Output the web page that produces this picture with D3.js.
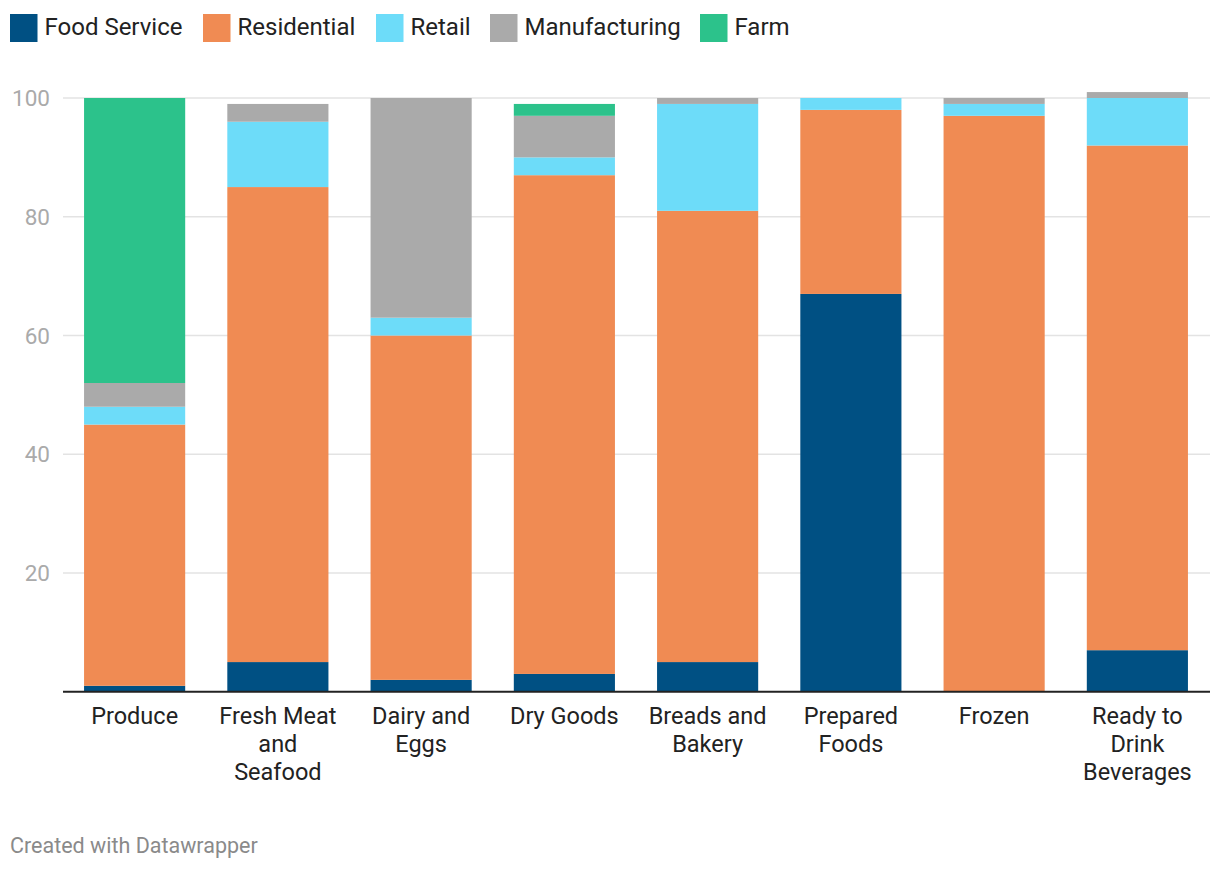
<!DOCTYPE html>
<html><head><meta charset="utf-8">
<script src="https://cdn.jsdelivr.net/npm/d3@7/dist/d3.min.js"></script>
<style>body{margin:0;background:#fff;} text{font-family:Roboto,"Noto Sans",sans-serif;}</style>
</head><body>
<svg id="chart" width="1220" height="870"></svg>
<script>
const categories = ["Produce", "Fresh Meat and Seafood", "Dairy and Eggs", "Dry Goods", "Breads and Bakery", "Prepared Foods", "Frozen", "Ready to Drink Beverages"];
const categoryLines = [["Produce"], ["Fresh Meat", "and", "Seafood"], ["Dairy and", "Eggs"], ["Dry Goods"], ["Breads and", "Bakery"], ["Prepared", "Foods"], ["Frozen"], ["Ready to", "Drink", "Beverages"]];
const seriesNames = ["Food Service", "Residential", "Retail", "Manufacturing", "Farm"];
const foodService   = [1, 5, 2, 3, 5, 67, 0, 7];
const residential   = [44, 80, 58, 84, 76, 31, 97, 85];
const retail        = [3, 11, 3, 3, 18, 2, 2, 8];
const manufacturing = [4, 3, 37, 7, 1, 0, 1, 1];
const farm          = [48, 0, 0, 2, 0, 0, 0, 0];
const yTicks = [20, 40, 60, 80, 100];
const colors = ["#005083", "#f08b53", "#6ddcf9", "#aaaaaa", "#2cc28b"];

const seriesValues = [foodService, residential, retail, manufacturing, farm];
const rows = categories.map((c, i) => {
  const r = {cat: c};
  seriesNames.forEach((s, j) => r[s] = seriesValues[j][i]);
  return r;
});

const svg = d3.select("#chart");
const x = d3.scaleBand().domain(categories).range([63, 1209]).paddingInner(0.294).paddingOuter(0.147);
const y = d3.scaleLinear().domain([0, 100]).range([691.75, 98]);

// gridlines
svg.append("g").selectAll("line").data(yTicks).join("line")
  .attr("x1", 63).attr("x2", 1210)
  .attr("y1", d => y(d)).attr("y2", d => y(d))
  .attr("stroke", "#e3e3e3").attr("stroke-width", 1.5);

// y tick labels
svg.append("g").selectAll("text").data(yTicks).join("text")
  .attr("x", 50).attr("y", d => y(d)).attr("dy", "0.36em")
  .attr("text-anchor", "end").attr("fill", "#aaaaaa").attr("font-size", 22.5)
  .text(d => d);

// stacked bars
const stack = d3.stack().keys(seriesNames)(rows);
svg.append("g").selectAll("g").data(stack).join("g")
  .attr("fill", (d, i) => colors[i])
  .selectAll("rect").data(d => d).join("rect")
  .attr("x", d => x(d.data.cat))
  .attr("width", x.bandwidth())
  .attr("y", d => y(d[1]))
  .attr("height", d => Math.max(0, y(d[0]) - y(d[1])));

// baseline
svg.append("line").attr("x1", 63).attr("x2", 1210)
  .attr("y1", y(0)).attr("y2", y(0)).attr("stroke", "#222").attr("stroke-width", 2);

// x labels
const xl = svg.append("g").selectAll("text").data(categories).join("text")
  .attr("x", d => x(d) + x.bandwidth() / 2)
  .attr("y", 724).attr("text-anchor", "middle")
  .attr("fill", "#222").attr("font-size", 23.5);
xl.each(function(d, i) {
  const t = d3.select(this);
  categoryLines[i].forEach((ln, k) => {
    t.append("tspan").attr("x", x(d) + x.bandwidth() / 2).attr("dy", k === 0 ? 0 : 28).text(ln);
  });
});

// legend
const legendX = [10, 203, 376, 490, 700];
const lg = svg.append("g").selectAll("g").data(seriesNames).join("g")
  .attr("transform", (d, i) => `translate(${legendX[i]},0)`);
lg.append("rect").attr("x", 0).attr("y", 14).attr("width", 27.5).attr("height", 28)
  .attr("fill", (d, i) => colors[i]);
lg.append("text").attr("x", 34.5).attr("y", 34.5)
  .attr("fill", "#222").attr("font-size", 24).text(d => d);

// footer
svg.append("text").attr("x", 10).attr("y", 853).attr("fill", "#8a8a8a")
  .attr("font-size", 21.5).text("Created with Datawrapper");
</script>
</body></html>
